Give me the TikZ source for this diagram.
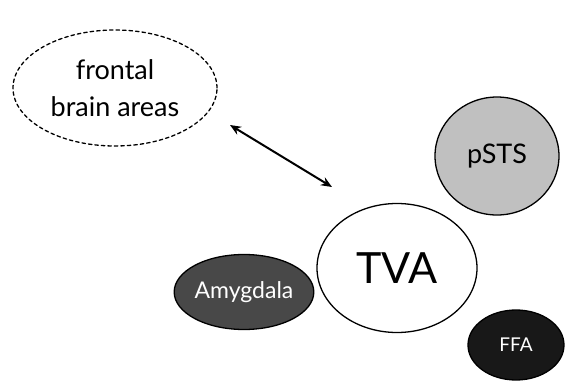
\documentclass[tikz,border=0pt]{standalone}
\usepackage{fontspec}
\setmainfont{Lato}
\usetikzlibrary{shapes.geometric,arrows.meta}
\definecolor{stsgray}{RGB}{192,192,192}
\definecolor{amygray}{RGB}{72,72,72}
\definecolor{ffablack}{RGB}{24,24,24}
\begin{document}
\begin{tikzpicture}[x=1pt,y=-1pt,line cap=round,line join=round,
  area/.style={ellipse,draw,line width=1.3pt,inner sep=0pt},
  every node/.style={align=center}]
  \useasboundingbox (0,0) rectangle (566,383);
  % regions
  \node[area,dash pattern=on 3.5pt off 3pt,minimum width=204pt,minimum height=116pt,
    font=\fontsize{27}{37}\selectfont] (frontal) at (115,88) {frontal\\brain areas};
  \node[area,fill=stsgray,minimum width=124pt,minimum height=118pt,
    font=\fontsize{27}{30}\selectfont] (psts) at (497,156) {pSTS};
  \node[area,fill=white,minimum width=160pt,minimum height=129pt,
    font=\fontsize{43}{50}\selectfont] (tva) at (397,268) {TVA};
  \node[area,fill=amygray,text=white,minimum width=132pt,minimum height=75pt,
    font=\fontsize{23}{26}\selectfont] (amy) at (244,292) {Amygdala};
  \node[area,fill=ffablack,text=white,minimum width=96pt,minimum height=70pt,
    font=\fontsize{19}{22}\selectfont] (ffa) at (516,345) {FFA};
  % link between frontal areas and TVA
  \coordinate (fr) at (230,125); \coordinate (tv) at (332,187);
  \draw[{Stealth[length=11pt,width=9pt]}-{Stealth[length=11pt,width=9pt]},line width=2pt] (fr) -- (tv);
\end{tikzpicture}
\end{document}
